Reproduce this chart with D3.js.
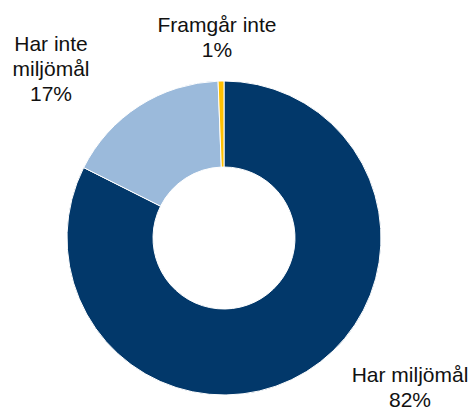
<!DOCTYPE html>
<html>
<head>
<meta charset="utf-8">
<script src="https://cdn.jsdelivr.net/npm/d3@7"></script>
<style>
  body { margin: 0; background: #fff; }
  text { font-family: "Liberation Sans", Arial, sans-serif; font-size: 21px; fill: #111; }
</style>
</head>
<body>
<div id="chart"></div>
<script>
var width = 470, height = 410;

// slices, clockwise from 12 o'clock
var categories = ["Har miljömål", "Har inte miljömål", "Framgår inte"];
var values = [82.4, 17.0, 0.6];
var colors = ["#02386a", "#9bbadb", "#ffc000"];
// label lines (category text split as in the picture) and label anchor points
var labelLines = [["Har miljömål"], ["Har inte", "miljömål"], ["Framgår inte"]];
var labelPos = [[410, 382], [51, 51], [217, 32]];

var cx = 224, cy = 238, outerR = 157, innerR = 71;

var svg = d3.select("#chart").append("svg")
    .attr("width", width).attr("height", height);

var data = categories.map(function(c, i) { return {name: c, value: values[i], i: i}; });

var pie = d3.pie().sort(null).value(function(d) { return d.value; });
var arc = d3.arc().innerRadius(innerR).outerRadius(outerR);

var g = svg.append("g").attr("transform", "translate(" + cx + "," + cy + ")");

g.selectAll("path")
    .data(pie(data))
    .enter().append("path")
    .attr("d", arc)
    .attr("fill", function(d) { return colors[d.data.i]; })
    .attr("stroke", "#fff")
    .attr("stroke-width", 1);

/* labels: category lines then rounded percent */
var lineH = 25;
data.forEach(function(d, i) {
  var lines = labelLines[i].concat([Math.round(d.value) + "%"]);
  var t = svg.append("text")
      .attr("text-anchor", "middle")
      .attr("x", labelPos[i][0])
      .attr("y", labelPos[i][1]);
  lines.forEach(function(l, k) {
    t.append("tspan")
        .attr("x", labelPos[i][0])
        .attr("dy", k == 0 ? 0 : lineH)
        .text(l);
  });
});
</script>
</body>
</html>
